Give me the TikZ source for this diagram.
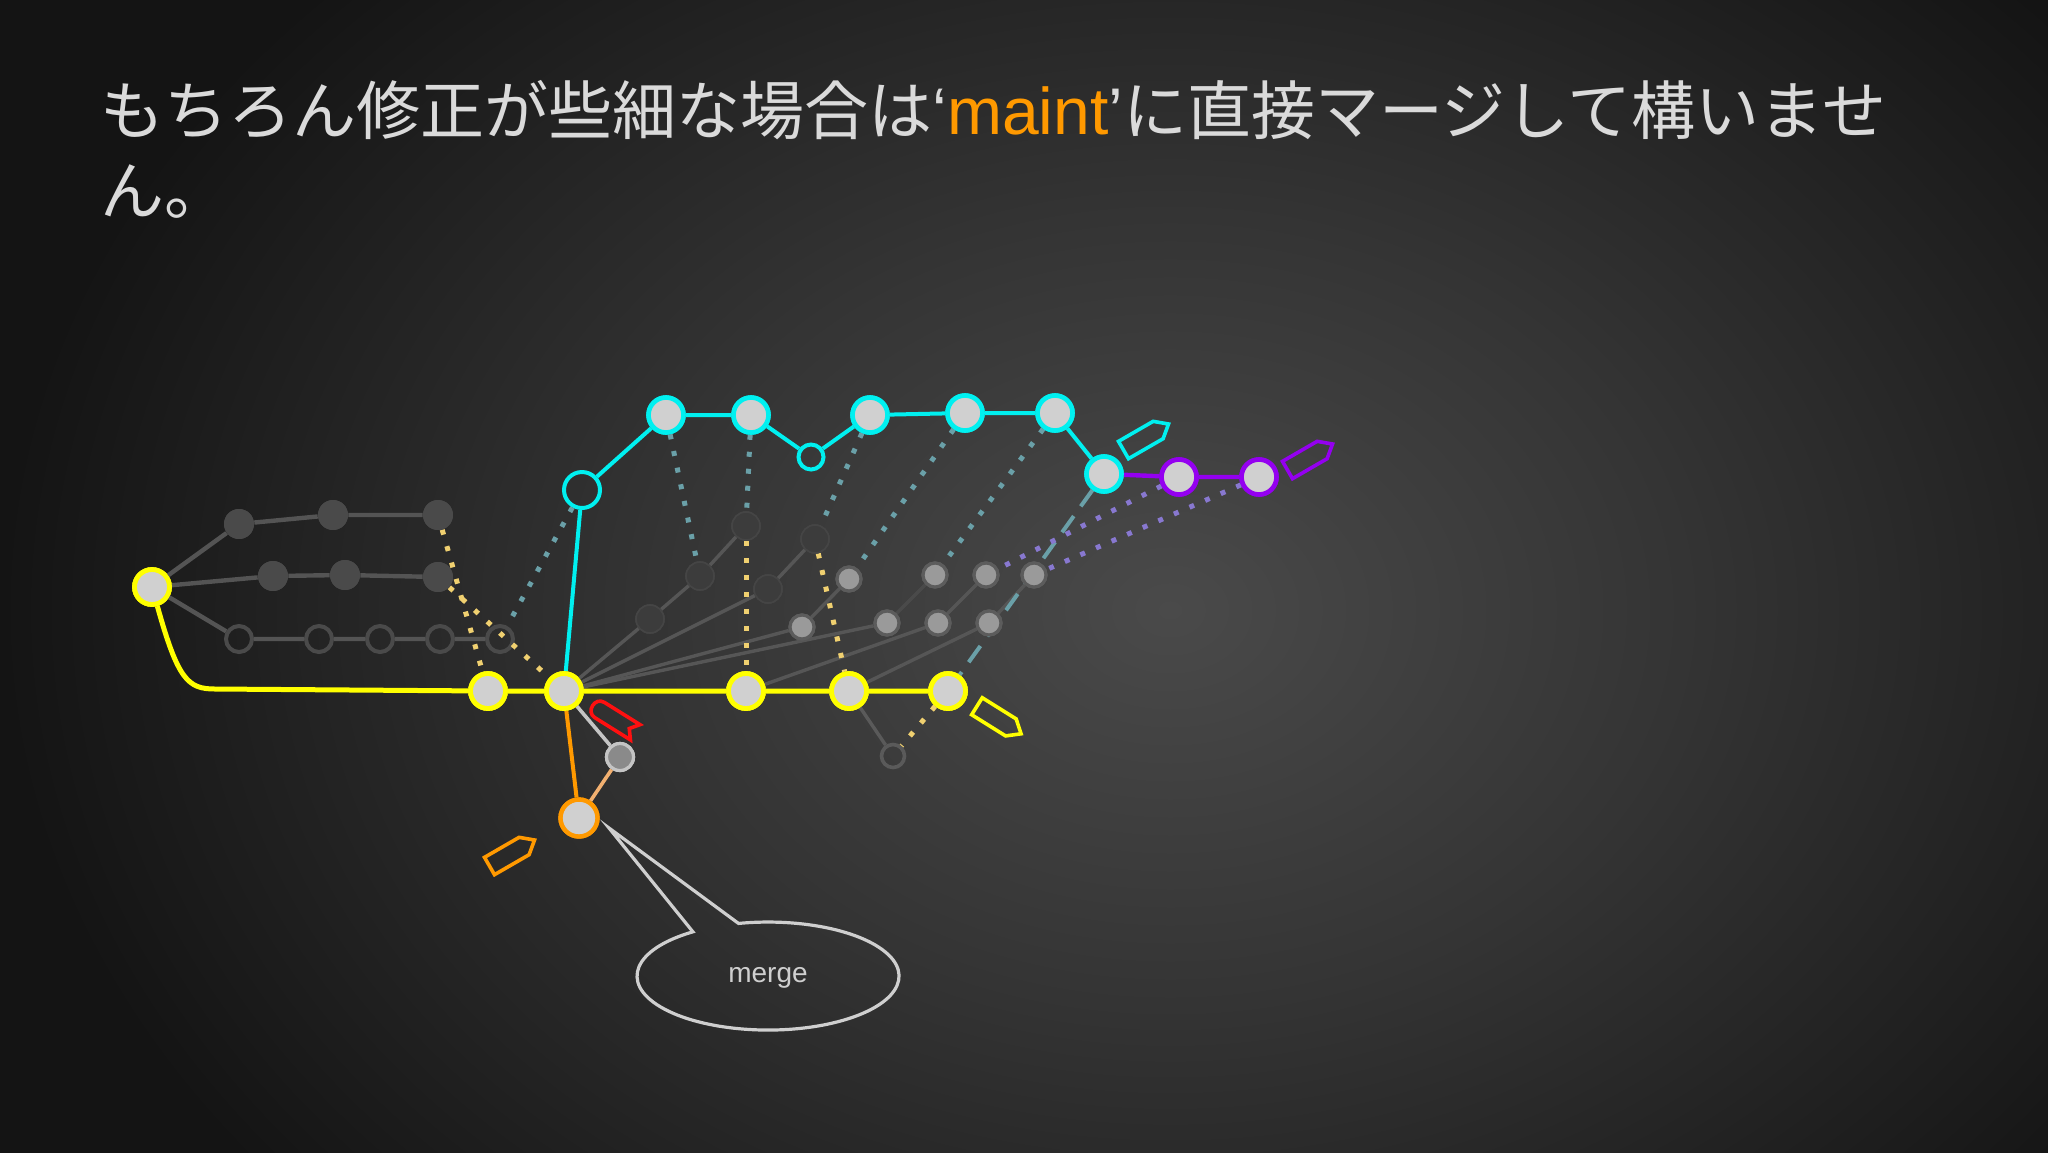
\documentclass[tikz,border=0pt]{standalone}
\usepackage{fontspec}
\setmainfont{Liberation Sans}
\newfontfamily\jp{Noto Sans CJK JP}
\definecolor{bgA}{HTML}{4A4A4A}
\definecolor{bgB}{HTML}{343434}
\definecolor{bgC}{HTML}{141414}
\definecolor{cYel}{HTML}{FFFF00}
\definecolor{cCyan}{HTML}{00F0F0}
\definecolor{cPur}{HTML}{9400F0}
\definecolor{cOra}{HTML}{FF9900}
\definecolor{cLOra}{HTML}{F2B070}
\definecolor{cRed}{HTML}{FF1010}
\definecolor{cFill}{HTML}{D0D0D0}
\definecolor{cTitle}{HTML}{DADADA}
\definecolor{cGrayA}{HTML}{4A4A4A}
\definecolor{cGrayE}{HTML}{545454}
\definecolor{cFan}{HTML}{565656}
\definecolor{cGhost}{HTML}{3C3C3C}
\definecolor{cGhostB}{HTML}{454545}
\definecolor{cLight}{HTML}{9A9A9A}
\definecolor{cLightB}{HTML}{5C5C5C}
\definecolor{cDotY}{HTML}{F0D070}
\definecolor{cDotT}{HTML}{6AA0A8}
\definecolor{cDotP}{HTML}{8878D0}
\definecolor{cBub}{HTML}{CFCFCF}
\definecolor{cGn}{HTML}{8A8A8A}
\definecolor{cGnB}{HTML}{C4C4C4}
\definecolor{cHol}{HTML}{5A5A5A}
\pgfdeclareradialshading{bgshade}{\pgfpoint{0bp}{0bp}}{color(0bp)=(bgA); color(11bp)=(bgB); color(25bp)=(bgC); color(50bp)=(bgC)}
\begin{document}
\begin{tikzpicture}[x=0.5pt,y=-0.5pt,
  every node/.style={inner sep=0pt},
  ynode/.style={circle, draw=cYel, fill=cFill, line width=2.4pt, minimum size=17.5pt},
  cnode/.style={circle, draw=cCyan, fill=cFill, line width=2.3pt, minimum size=17.5pt},
  pnode/.style={circle, draw=cPur, fill=cFill, line width=2.3pt, minimum size=17.5pt},
  onode/.style={circle, draw=cOra, fill=cFill, line width=2.2pt, minimum size=18.5pt},
  chollow/.style={circle, draw=cCyan, line width=2pt, minimum size=18pt},
  csmall/.style={circle, draw=cCyan, line width=2pt, minimum size=12.5pt},
  gfill/.style={circle, fill=cGrayA, minimum size=15pt},
  ghollow/.style={circle, draw=cGrayA, line width=2pt, minimum size=13pt},
  ghost/.style={circle, fill=cGhost, draw=cGhostB, line width=0.8pt, minimum size=14pt},
  lnode/.style={circle, fill=cLight, draw=cLightB, line width=1.6pt, minimum size=12pt},
  hnode/.style={circle, draw=cHol, line width=1.8pt, minimum size=11.5pt},
  gnnode/.style={circle, fill=cGn, draw=cGnB, line width=1.6pt, minimum size=13.5pt},
  yline/.style={draw=cYel, line width=2.5pt},
  cline/.style={draw=cCyan, line width=2pt},
  pline/.style={draw=cPur, line width=2.2pt},
  gline/.style={draw=cGrayE, line width=2.2pt},
  fline/.style={draw=cFan, line width=1.7pt},
  dotY/.style={draw=cDotY, line width=2.5pt, dash pattern=on 2.5pt off 6pt},
  dotT/.style={draw=cDotT, line width=2.5pt, dash pattern=on 2.5pt off 6pt},
  dotP/.style={draw=cDotP, line width=2.5pt, dash pattern=on 2.5pt off 6pt},
  dashT/.style={draw=cDotT, line width=2pt, dash pattern=on 10pt off 6pt},
  tagpic/.pic={\draw[pic actions] (-26,-10) -- (14,-10) -- (26,0) -- (14,10) -- (-26,10) -- cycle;},
  flagpic/.pic={\draw[pic actions] (-17,-9) -- (25,-9) -- (18,0) -- (25,9) -- (-17,9) .. controls (-28,9) and (-28,-9) .. cycle;}
]
\useasboundingbox (0,0) rectangle (2048,1152);
\fill[bgC] (-20,-20) rectangle (2068,1172);
\begin{scope}
\clip (-20,-20) rectangle (2068,1172);
\shade[shading=bgshade] (1170,610) ellipse (1170 and 900);
\end{scope}

% title
\node[anchor=west, text=cTitle, font=\fontsize{32pt}{40pt}\selectfont] (t1) at (100,110)
 {{\jp もちろん修正が些細な場合は}{\fontsize{33pt}{40pt}\selectfont ‘\textcolor{cOra}{maint}’}{\jp に直接マージして構いませ}};
\node[anchor=west, text=cTitle, font=\fontsize{32pt}{40pt}\selectfont\jp] (t2) at (100,192) {ん。};

% nodes: left group
\node[ynode] (root) at (152,587) {};
\node[gfill] (t1n) at (239,524) {};
\node[gfill] (t2n) at (333,515) {};
\node[gfill] (t3n) at (438,515) {};
\node[gfill] (m1) at (273,576) {};
\node[gfill] (m2) at (345,575) {};
\node[gfill] (m3) at (438,577) {};
\node[ghollow] (b1) at (239,639) {};
\node[ghollow] (b2) at (319,639) {};
\node[ghollow] (b3) at (380,639) {};
\node[ghollow] (b4) at (440,639) {};
\node[ghollow] (b5) at (500,639) {};

% ghost layer
\node[ghost] (g1) at (650,619) {};
\node[ghost] (g2) at (700,576) {};
\node[ghost] (g3) at (746,526) {};
\node[ghost] (g4) at (768,589) {};
\node[ghost] (g5) at (815,539) {};
\node[lnode] (l1) at (802,627) {};
\node[lnode] (l2) at (849,579) {};
\node[lnode] (l3) at (887,623) {};
\node[lnode] (l4) at (935,575) {};
\node[lnode] (l5) at (938,623) {};
\node[lnode] (l6) at (986,575) {};
\node[lnode] (l7) at (989,623) {};
\node[lnode] (l8) at (1034,575) {};
\node[hnode] (hh) at (893,756) {};

% main nodes
\node[ynode] (y1) at (488,691) {};
\node[ynode] (y2) at (564,691) {};
\node[ynode] (y3) at (746,691) {};
\node[ynode] (y4) at (849,691) {};
\node[ynode] (y5) at (948,691) {};
\node[chollow] (c0) at (582,490) {};
\node[cnode] (c1) at (666,415) {};
\node[cnode] (c2) at (751,415) {};
\node[csmall] (cs) at (811,457) {};
\node[cnode] (c3) at (870,415) {};
\node[cnode] (c4) at (965,413) {};
\node[cnode] (c5) at (1055,413) {};
\node[cnode] (c6) at (1104,474) {};
\node[pnode] (p1) at (1179,477) {};
\node[pnode] (p2) at (1259,477) {};
\node[gnnode] (gn) at (620,757) {};
\node[onode] (on) at (579,818) {};

% gray edges left
\draw[gline] (root) -- (t1n) -- (t2n) -- (t3n);
\draw[gline] (root) -- (m1) -- (m2) -- (m3);
\draw[gline] (root) -- (b1) -- (b2) -- (b3) -- (b4) -- (b5);
% fan edges
\draw[fline] (y2) -- (g1) -- (g2) -- (g3);
\draw[fline] (y2) -- (g4) -- (g5);
\draw[fline] (y2) -- (l1) -- (l2);
\draw[fline] (y2) -- (l3);
\draw[fline, draw opacity=0.5] (l3) -- (l4);
\draw[fline] (y3) -- (l5) -- (l6);
\draw[fline] (y4) -- (l7) -- (l8);
\draw[fline, draw=cHol] (y4) -- (hh);
% dotted
\draw[dotY] (t3n) -- (y1);
\draw[dotY] (m3) -- (y2);
\draw[dotY] (g3) -- (y3);
\draw[dotY] (g5) -- (y4);
\draw[dotY] (y5) -- (hh);
\draw[dotT] (c0) -- (b5);
\draw[dotT] (c1) -- (g2);
\draw[dotT] (c2) -- (g3);
\draw[dotT] (c3) -- (g5);
\draw[dotT] (c4) -- (l2);
\draw[dotT] (c5) -- (l4);
\draw[dashT] (c6) -- (y5);
\draw[dotP] (p1) -- (l6);
\draw[dotP] (p2) -- (l8);
% main lines
\draw[yline] (root) .. controls (178,680) and (188,689) .. (215,689) -- (y1) -- (y2) -- (y3) -- (y4) -- (y5);
\draw[cline] (y2) -- (c0) -- (c1) -- (c2) -- (cs) -- (c3) -- (c4) -- (c5) -- (c6);
\draw[pline] (c6) -- (p1) -- (p2);
\draw[draw=cOra, line width=2pt] (y2) -- (on);
\draw[draw=cGnB, line width=1.8pt] (y2) -- (gn);
\draw[draw=cLOra, line width=1.8pt] (gn) -- (on);

% redraw filled nodes on top of the connectors
\foreach \n/\s in {root/ynode,y1/ynode,y2/ynode,y3/ynode,y4/ynode,y5/ynode,c1/cnode,c2/cnode,c3/cnode,c4/cnode,c5/cnode,c6/cnode,p1/pnode,p2/pnode,on/onode,gn/gnnode}
  {\node[\s] at (\n) {};}
\foreach \n in {t1n,t2n,t3n,m1,m2,m3}{\node[gfill] at (\n) {};}
\foreach \n in {g1,g2,g3,g4,g5}{\node[ghost] at (\n) {};}
\foreach \n in {l1,l2,l3,l4,l5,l6,l7,l8}{\node[lnode] at (\n) {};}

% tags
\pic[draw=cCyan, line width=1.8pt, rotate=30] at (1146,437) {tagpic};
\pic[draw=cPur, line width=1.8pt, rotate=30] at (1310,457) {tagpic};
\pic[draw=cYel, line width=1.8pt, rotate=-32] at (999,720) {tagpic};
\pic[draw=cOra, line width=1.8pt, rotate=30] at (512,853) {tagpic};
\pic[draw=cRed, line width=1.8pt, rotate=-32] at (614,719) {flagpic};

% speech bubble
\draw[draw=cBub, line width=1.6pt, line join=miter] (738.5,923.4) -- (609,828) -- (692.9,931.8)
  arc[start angle=235, end angle=-103, x radius=131, y radius=54] -- cycle;
\node[text=cBub, font=\fontsize{14pt}{16pt}\selectfont] (mergelbl) at (768,978) {merge};
\end{tikzpicture}
\end{document}
